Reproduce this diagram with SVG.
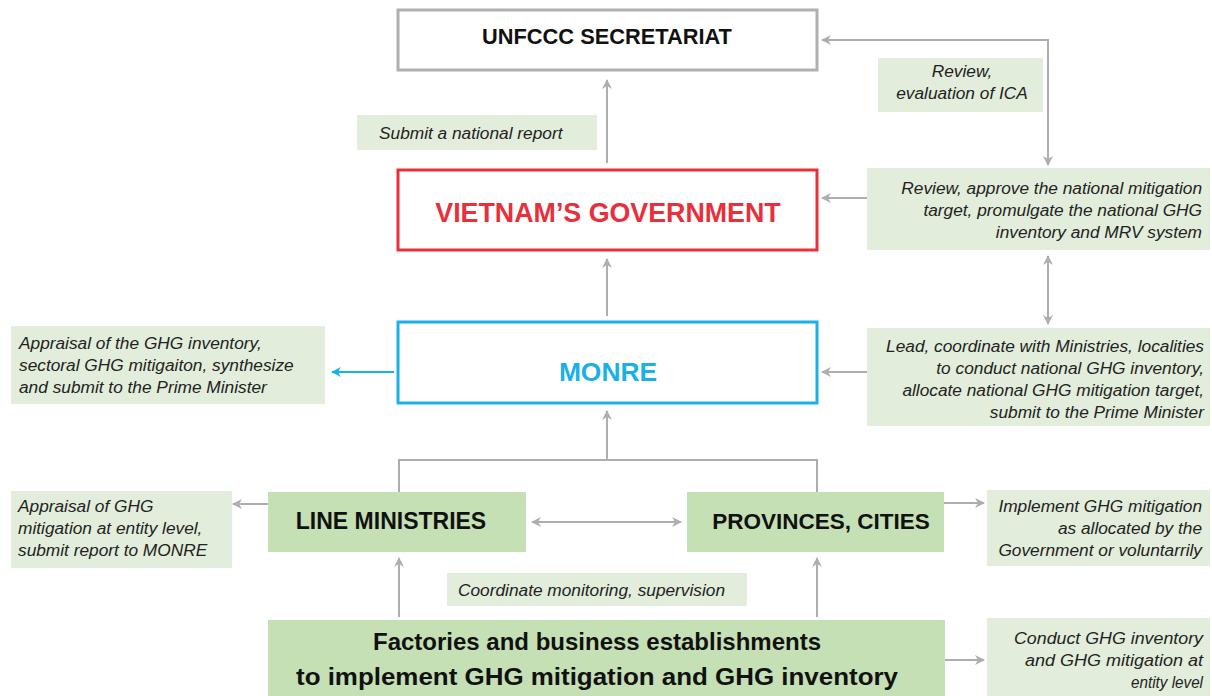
<svg xmlns="http://www.w3.org/2000/svg" width="1212" height="696" viewBox="0 0 1212 696">
<style>
.lbl{fill:#e2eedb}
.it{font-family:"Liberation Sans",Arial,sans-serif;font-style:italic;font-size:17.3px;fill:#222}
.hd{font-family:"Liberation Sans",Arial,sans-serif;font-weight:bold;fill:#111}
.ln{fill:none;stroke:#aeaeb2;stroke-width:2}
.gb{fill:#c5e0b4}
</style>
<defs>
<marker id="ah" viewBox="0 0 10 10" refX="9" refY="5" markerWidth="5" markerHeight="5" orient="auto-start-reverse"><path d="M0,0 L10,5 L0,10 L3,5 z" fill="#aeaeb2"/></marker>
<marker id="ahc" viewBox="0 0 10 10" refX="9" refY="5" markerWidth="5" markerHeight="5" orient="auto"><path d="M0,0 L10,5 L0,10 L3,5 z" fill="#1ab0e8"/></marker>
</defs>
<g id="connectors">
<line class="ln" x1="607" y1="163" x2="607" y2="80" marker-end="url(#ah)"/>
<polyline class="ln" points="1048,165 1048,40 822,40" marker-start="url(#ah)" marker-end="url(#ah)"/>
<line class="ln" x1="867" y1="198" x2="822" y2="198" marker-end="url(#ah)"/>
<line class="ln" x1="1048" y1="256" x2="1048" y2="324" marker-start="url(#ah)" marker-end="url(#ah)"/>
<line class="ln" x1="607" y1="316" x2="607" y2="259" marker-end="url(#ah)"/>
<line x1="394" y1="372" x2="332" y2="372" stroke="#1ab0e8" stroke-width="2" marker-end="url(#ahc)"/>
<line class="ln" x1="867" y1="372" x2="822" y2="372" marker-end="url(#ah)"/>
<polyline class="ln" points="399,492 399,460 817,460 817,492"/>
<line class="ln" x1="607" y1="460" x2="607" y2="411" marker-end="url(#ah)"/>
<line class="ln" x1="268" y1="504" x2="233" y2="504" marker-end="url(#ah)"/>
<line class="ln" x1="532" y1="522" x2="681" y2="522" marker-start="url(#ah)" marker-end="url(#ah)"/>
<line class="ln" x1="944" y1="503" x2="984" y2="503" marker-end="url(#ah)"/>
<line class="ln" x1="399" y1="617" x2="399" y2="558" marker-end="url(#ah)"/>
<line class="ln" x1="817" y1="617" x2="817" y2="558" marker-end="url(#ah)"/>
<line class="ln" x1="945" y1="660" x2="984" y2="660" marker-end="url(#ah)"/>
</g>
<g id="unfccc">
<rect x="398" y="10" width="419" height="60" fill="#fff" stroke="#b0b0b0" stroke-width="3"/>
<text class="hd" x="607" y="44" font-size="21.8" text-anchor="middle">UNFCCC SECRETARIAT</text>
</g>
<g id="submit-label">
<rect class="lbl" x="357" y="115" width="240" height="35"/>
<text class="it" x="379" y="139">Submit a national report</text>
</g>
<g id="review-ica">
<rect class="lbl" x="878" y="58" width="165" height="54"/>
<text class="it" x="962" y="77" text-anchor="middle">Review,</text>
<text class="it" x="962" y="99" text-anchor="middle">evaluation of ICA</text>
</g>
<g id="government">
<rect x="398" y="170" width="419" height="80" fill="#fff" stroke="#e8303a" stroke-width="3"/>
<text class="hd" x="608" y="222" font-size="26.8" text-anchor="middle" style="fill:#e8303a">VIETNAM’S GOVERNMENT</text>
</g>
<g id="review-approve">
<rect class="lbl" x="867" y="168" width="343" height="82"/>
<text class="it" x="1202" y="194" text-anchor="end">Review, approve the national mitigation</text>
<text class="it" x="1202" y="216" text-anchor="end">target, promulgate the national GHG</text>
<text class="it" x="1202" y="238" text-anchor="end">inventory and MRV system</text>
</g>
<g id="monre">
<rect x="398" y="322" width="419" height="81" fill="#fff" stroke="#1ab0e8" stroke-width="3"/>
<text class="hd" x="608" y="381" font-size="26.4" text-anchor="middle" style="fill:#1ab0e8">MONRE</text>
</g>
<g id="appraisal-inventory">
<rect class="lbl" x="11" y="326" width="314" height="78"/>
<text class="it" x="19" y="349">Appraisal of the GHG inventory,</text>
<text class="it" x="19" y="371">sectoral GHG mitigaiton, synthesize</text>
<text class="it" x="19" y="393">and submit to the Prime Minister</text>
</g>
<g id="lead-coordinate">
<rect class="lbl" x="867" y="328" width="343" height="98"/>
<text class="it" x="1204" y="352" text-anchor="end">Lead, coordinate with Ministries, localities</text>
<text class="it" x="1204" y="374" text-anchor="end">to conduct national GHG inventory,</text>
<text class="it" x="1204" y="396" text-anchor="end">allocate national GHG mitigation target,</text>
<text class="it" x="1204" y="418" text-anchor="end">submit to the Prime Minister</text>
</g>
<g id="line-ministries">
<rect class="gb" x="268" y="492" width="258" height="60"/>
<text class="hd" x="391" y="529" font-size="23" text-anchor="middle">LINE MINISTRIES</text>
</g>
<g id="appraisal-entity">
<rect class="lbl" x="11" y="491" width="221" height="77"/>
<text class="it" x="18" y="512">Appraisal of GHG</text>
<text class="it" x="18" y="534">mitigation at entity level,</text>
<text class="it" x="18" y="556">submit report to MONRE</text>
</g>
<g id="provinces">
<rect class="gb" x="687" y="492" width="257" height="60"/>
<text class="hd" x="821" y="529" font-size="22.5" text-anchor="middle">PROVINCES, CITIES</text>
</g>
<g id="implement">
<rect class="lbl" x="987" y="490" width="223" height="76"/>
<text class="it" x="1202" y="512" text-anchor="end">Implement GHG mitigation</text>
<text class="it" x="1202" y="534" text-anchor="end">as allocated by the</text>
<text class="it" x="1202" y="556" text-anchor="end">Government or voluntarrily</text>
</g>
<g id="coordinate-label">
<rect class="lbl" x="447" y="573" width="300" height="33"/>
<text class="it" x="458" y="596">Coordinate monitoring, supervision</text>
</g>
<g id="factories">
<rect class="gb" x="268" y="620" width="677" height="80"/>
<text class="hd" x="597" y="650" font-size="24" text-anchor="middle" textLength="448" lengthAdjust="spacingAndGlyphs">Factories and business establishments</text>
<text class="hd" x="597" y="685" font-size="24" text-anchor="middle" textLength="602" lengthAdjust="spacingAndGlyphs">to implement GHG mitigation and GHG inventory</text>
</g>
<g id="conduct">
<rect class="lbl" x="987" y="618" width="223" height="80"/>
<text class="it" x="1203" y="644" text-anchor="end" textLength="189" lengthAdjust="spacingAndGlyphs">Conduct GHG inventory</text>
<text class="it" x="1203" y="666" text-anchor="end" textLength="178" lengthAdjust="spacingAndGlyphs">and GHG mitigation at</text>
<text class="it" x="1203" y="688" text-anchor="end" textLength="72" lengthAdjust="spacingAndGlyphs">entity level</text>
</g>
</svg>
